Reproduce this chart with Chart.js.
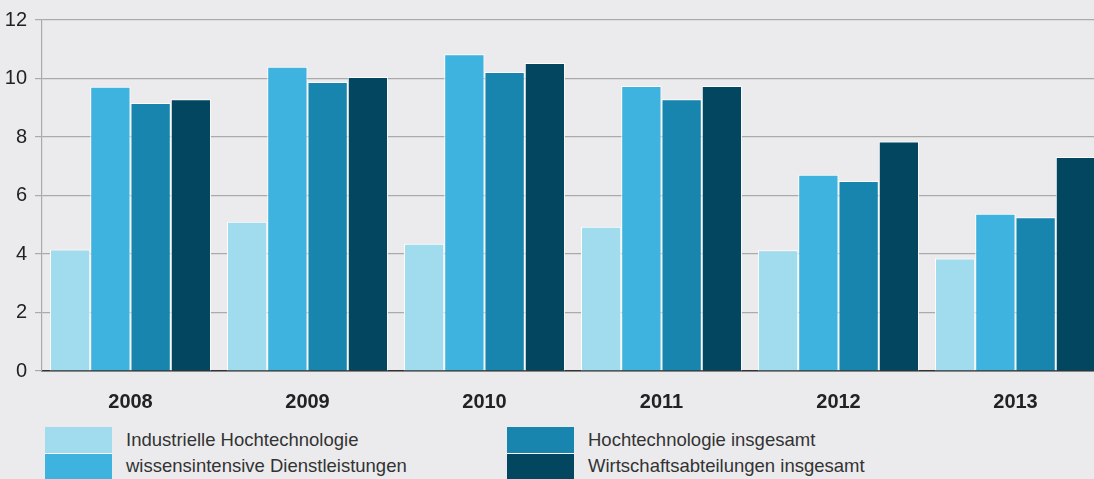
<!DOCTYPE html>
<html lang="de">
<head>
    <meta charset="UTF-8">
    <title>Hochtechnologie</title>
    <script src="https://cdn.jsdelivr.net/npm/chart.js"></script>
    <style>
        html, body { margin: 0; padding: 0; background: #ebebed; }
        body { width: 1094px; height: 479px; position: relative; overflow: hidden; font-family: "Liberation Sans", Arial, sans-serif; }
        /* chart area runs a bit past the right edge, like the original */
        #chart-container { position: absolute; left: 0; top: 0; width: 1104px; height: 420px; }
        .legend { position: absolute; top: 427px; font-size: 18.5px; color: #333; }
        .legend .item { height: 26px; display: flex; align-items: center; }
        .legend .box { width: 67px; height: 26px; margin-right: 14px; box-sizing: border-box; }
        .legend .item + .item .box { border-top: 1px solid #fff; }
    </style>
</head>
<body>
    <div id="chart-container"><canvas id="bars"></canvas></div>
    <div class="legend" style="left:45px" id="legend-left"></div>
    <div class="legend" style="left:507px" id="legend-right"></div>

    <script>
        const years = ["2008", "2009", "2010", "2011", "2012", "2013"];
        const seriesNames = [
            "Industrielle Hochtechnologie",
            "wissensintensive Dienstleistungen",
            "Hochtechnologie insgesamt",
            "Wirtschaftsabteilungen insgesamt"
        ];
        const industrielle = [4.15, 5.1, 4.35, 4.93, 4.13, 3.85];
        const wissensintensiv = [9.72, 10.4, 10.83, 9.74, 6.71, 5.38];
        const hochtechGesamt = [9.16, 9.88, 10.22, 9.29, 6.5, 5.26];
        const wirtschaftGesamt = [9.29, 10.05, 10.53, 9.74, 7.85, 7.32];
        const yTicks = [0, 2, 4, 6, 8, 10, 12];
        const colors = ["#a0dbee", "#3fb3df", "#1785ae", "#02465f"];

        const allSeries = [industrielle, wissensintensiv, hochtechGesamt, wirtschaftGesamt];

        const ctx = document.getElementById("bars").getContext("2d");
        new Chart(ctx, {
            type: "bar",
            data: {
                labels: years,
                datasets: allSeries.map((vals, i) => ({
                    label: seriesNames[i],
                    data: vals,
                    backgroundColor: colors[i],
                    borderColor: "#ffffff",
                    borderWidth: { top: 1, left: 1, right: 1, bottom: 0 },
                    borderSkipped: "bottom",
                    categoryPercentage: 0.91,
                    barPercentage: 1.0
                }))
            },
            options: {
                responsive: true,
                maintainAspectRatio: false,
                animation: false,
                layout: { padding: { top: 19, right: 0, left: 0, bottom: 0 } },
                plugins: {
                    legend: { display: false },
                    tooltip: { enabled: false }
                },
                scales: {
                    x: {
                        grid: { display: false, drawTicks: false },
                        border: { color: "#333333", width: 1.5 },
                        ticks: {
                            color: "#222222",
                            padding: 19,
                            font: { family: "Liberation Sans", size: 20, weight: "bold" }
                        },
                        afterFit: s => { s.height = 49; }
                    },
                    y: {
                        min: 0,
                        max: 12,
                        afterBuildTicks: s => { s.ticks = yTicks.map(v => ({ value: v })); },
                        grid: { color: "#aaaaaa", lineWidth: 1.2, tickLength: 7, drawTicks: true },
                        border: { color: "#aaaaaa", width: 1.2 },
                        ticks: {
                            color: "#222222",
                            padding: 8,
                            font: { family: "Liberation Sans", size: 20 }
                        },
                        afterFit: s => { s.width = 42; }
                    }
                }
            }
        });

        function buildLegend(el, idxs) {
            idxs.forEach(i => {
                const item = document.createElement("div");
                item.className = "item";
                item.innerHTML = `<div class="box" style="background:${colors[i]}"></div><span>${seriesNames[i]}</span>`;
                el.appendChild(item);
            });
        }
        buildLegend(document.getElementById("legend-left"), [0, 1]);
        buildLegend(document.getElementById("legend-right"), [2, 3]);
    </script>
</body>
</html>
